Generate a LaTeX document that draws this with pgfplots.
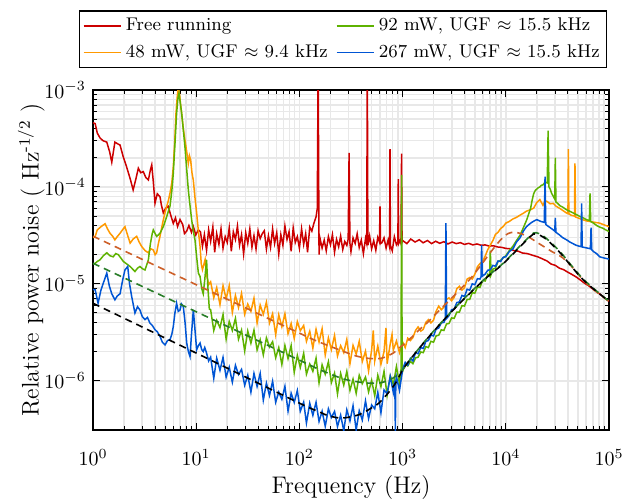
\documentclass[border=0pt]{standalone}
\usepackage{pgfplots}
\pgfplotsset{compat=1.18}

\definecolor{cRed}{RGB}{204,0,0}
\definecolor{cOrange}{RGB}{255,153,0}
\definecolor{cGreen}{RGB}{94,178,0}
\definecolor{cBlue}{RGB}{0,85,212}
\definecolor{cBrown}{RGB}{205,95,40}
\definecolor{cDkGreen}{RGB}{40,125,40}

\begin{document}
\begin{tikzpicture}
\path[use as bounding box] (-46.5pt,-35pt) rectangle (271.5pt,215pt);
\begin{axis}[
  at={(0,0)}, anchor=south west,
  scale only axis,
  width=258pt, height=170pt,
  xmode=log, ymode=log,
  xmin=1, xmax=1e5,
  ymin=3.1e-7, ymax=1e-3,
  xtick={1,10,100,1000,10000,100000},
  ytick={1e-6,1e-5,1e-4,1e-3},
  grid=both,
  major grid style={line width=0.8pt, black!9},
  minor grid style={line width=0.8pt, black!9},
  axis line style={line width=0.7pt},
  major tick length=3.5pt, minor tick length=2pt,
  tick style={black, line width=0.5pt},
  xticklabel style={yshift=-6pt},
  xlabel={Frequency (Hz)},
  xlabel style={yshift=2pt},
  ylabel={Relative power noise ( Hz\textsuperscript{-1/2} )},
  ylabel shift=-7pt,
  label style={font=\large},
  legend columns=2,
  legend style={at={(0.485,1.065)}, anchor=south, draw=black, line width=0.6pt,
    fill=white, font=\fontsize{9.2}{11.5}\selectfont, inner sep=1.5pt, row sep=1.2pt,
    /tikz/every even column/.append style={column sep=2pt}},
  legend cell align=left,
  legend image code/.code={\draw[#1] (0cm,0cm) -- (0.66cm,0cm);},
  every axis plot/.append style={line width=0.75pt},
]

% free running
\addplot[cRed, forget plot] coordinates {
(1,4.6e-4)(1.05,4.5e-4)(1.1,3.6e-4)(1.17,3.2e-4)(1.25,3.0e-4)(1.36,2.9e-4)(1.45,2.3e-4)(1.52,1.8e-4)(1.63,2.9e-4)(1.72,2.8e-4)(1.83,2.7e-4)(1.95,2.1e-4)(2.12,1.6e-4)(2.3,1.2e-4)(2.45,9.3e-5)(2.6,1.2e-4)(2.75,1.56e-4)(2.9,1.4e-4)(3.07,1.44e-4)(3.25,1.25e-4)(3.44,1.18e-4)(3.6,1.5e-4)(3.71,1.69e-4)(3.85,1.1e-4)(3.99,6.8e-5)(4.2,8.5e-5)(4.46,7.9e-5)(4.6,6.5e-5)(4.8,5.4e-5)(5.05,6.0e-5)(5.36,6.3e-5)(5.7,5.0e-5)(6.0,4.2e-5)(6.3,4.8e-5)(6.6,3.9e-5)(6.97,4.6e-5)(7.4,4.1e-5)(7.7,3.3e-5)(8.09,3.5e-5)(8.5,4.0e-5)(9.0,3.4e-5)(9.38,3.9e-5)(9.9,3.2e-5)(10.5,3.6e-5)
(11,3.44e-5)(11.5,2.44e-5)(12,3.22e-5)(12.6,2.22e-5)(13.2,3.61e-5)(13.8,2.74e-5)(14.5,3.86e-5)(15.1,2.12e-5)(15.8,3.29e-5)(16.6,2.55e-5)(17.4,3.69e-5)(18.2,2.33e-5)(19.1,3.07e-5)(20,2.67e-5)(20.9,3.78e-5)(21.9,2.17e-5)(22.9,3.44e-5)(24,2.87e-5)(25.1,3.95e-5)(26.3,2.50e-5)(27.5,3.22e-5)(28.8,2.03e-5)(30.2,3.37e-5)(31.6,2.61e-5)(33.1,3.69e-5)(34.7,2.38e-5)(36.3,3.14e-5)(38,2.28e-5)(39.8,3.53e-5)(41.7,2.93e-5)
(43.7,3.3e-5)(45.7,3.53e-5)(47.9,2.28e-5)(50.1,3.14e-5)(52.5,2.38e-5)(55,3.69e-5)(57.5,2.61e-5)(60.3,3.37e-5)(63.1,2.03e-5)(66.1,3.22e-5)(69.2,2.50e-5)(72.4,3.95e-5)(75.9,2.87e-5)(79.4,3.44e-5)(83.2,2.17e-5)(87.1,3.78e-5)(91.2,2.67e-5)(95.5,3.07e-5)(100,2.33e-5)(105,3.69e-5)(110,2.55e-5)(115,3.29e-5)(120,2.12e-5)(126,3.86e-5)(132,3.5e-5)(138,4.2e-5)(145,4.9e-5)(149,6.0e-5)(152,2e-3)(155,2.0e-5)
(158,2.98e-5)(166,2.34e-5)(174,2.83e-5)(182,2.19e-5)(191,3.07e-5)(200,2.53e-5)(209,3.22e-5)(219,2.12e-5)(229,2.88e-5)(240,2.41e-5)(251,3.12e-5)(263,2.26e-5)(275,2.74e-5)(288,2.49e-5)(297,2.9e-5)(303,2.24e-4)(309,2.6e-5)(316,2.15e-5)(331,2.98e-5)(347,2.61e-5)(363,3.28e-5)(380,2.37e-5)(398,2.83e-5)(417,2.05e-5)(437,2.93e-5)(449,2.6e-5)(455,2e-3)(461,2.5e-5)(479,3.12e-5)(501,2.30e-5)(525,2.79e-5)(550,2.22e-5)(575,3.02e-5)(597,2.7e-5)(604,6.3e-5)(611,2.6e-5)(631,2.66e-5)(661,2.98e-5)(692,2.34e-5)(724,2.83e-5)(748,2.4e-5)(755,2.45e-4)(762,2.5e-5)(794,2.19e-5)(832,3.07e-5)(871,2.53e-5)(900,2.7e-5)(908,1.2e-4)(916,2.6e-5)(945,2.8e-5)(965,2.6e-5)(977,2.2e-4)(988,2.7e-5)
(1000,2.8e-5)(1100,2.6e-5)(1200,2.9e-5)(1320,2.7e-5)(1450,2.85e-5)(1580,2.65e-5)(1740,2.8e-5)(1910,2.6e-5)(2090,2.75e-5)(2290,2.62e-5)(2510,2.72e-5)(2750,2.58e-5)(3020,2.7e-5)(3310,2.6e-5)(3630,2.66e-5)(3980,2.55e-5)(4370,2.62e-5)(4790,2.52e-5)(5250,2.58e-5)(5750,2.5e-5)(6310,2.52e-5)(6920,2.45e-5)(7590,2.47e-5)(8320,2.4e-5)(9120,2.38e-5)(10000,2.32e-5)(11000,2.3e-5)(12000,2.2e-5)(13200,2.17e-5)(14500,2.08e-5)(16200,2.05e-5)(18200,1.97e-5)(20400,1.9e-5)(22900,1.8e-5)(25100,1.72e-5)(27500,1.6e-5)(30200,1.55e-5)(33100,1.45e-5)(36300,1.4e-5)(39800,1.32e-5)(43700,1.25e-5)(47900,1.18e-5)(52500,1.1e-5)(57500,1.02e-5)(63100,9.6e-6)(69200,8.9e-6)(75900,8.3e-6)(83200,7.7e-6)(91200,7.1e-6)(100000,6.6e-6)
};

% 48 mW
\addplot[cOrange, forget plot] coordinates {
(1,3.0e-5)(1.05,3.08e-5)(1.1,3.6e-5)(1.2,3.9e-5)(1.31,4.17e-5)(1.38,3.7e-5)(1.46,3.33e-5)(1.55,3.1e-5)(1.63,2.84e-5)(1.73,3.1e-5)(1.83,3.33e-5)(1.93,3.6e-5)(2.04,3.89e-5)(2.16,3.2e-5)(2.29,2.63e-5)(2.45,2.9e-5)(2.65,3.09e-5)(2.8,2.7e-5)(2.96,2.43e-5)(3.2,2.2e-5)(3.44,2.09e-5)(3.62,2.3e-5)(3.84,2.24e-5)(4.0,2.0e-5)(4.14,2.09e-5)(4.3,2.6e-5)(4.46,3.09e-5)(4.63,3.8e-5)(4.8,4.57e-5)(5.0,5.5e-5)(5.18,6.3e-5)(5.37,7.2e-5)(5.57,8.6e-5)(5.8,1.1e-4)(6.0,1.62e-4)(6.2,3.0e-4)(6.37,5.75e-4)(6.55,8.5e-4)(6.71,1.1e-3)(6.9,9.0e-4)(7.05,7.2e-4)(7.23,5.75e-4)(7.5,4.0e-4)(7.78,3.05e-4)(8.1,2.3e-4)(8.39,1.75e-4)(8.6,2.1e-4)(8.83,1.9e-4)(9.1,1.4e-4)(9.38,1.17e-4)(9.7,8.0e-5)(10.1,5.4e-5)(10.5,3.5e-5)(10.9,2.43e-5)(11.2,1.6e-5)(11.5,1.4e-5)(11.9,1.6e-5)(12.2,1.78e-5)(12.6,1.25e-5)(13.2,9.8e-6)
(13.8,1.05e-5)(14.8,7.18e-6)(15.8,9.14e-6)(17.0,6.11e-6)(18.2,9.57e-6)(19.5,7.02e-6)(20.9,9.57e-6)(22.4,5.08e-6)(24.0,7.60e-6)(25.7,5.70e-6)(27.5,7.96e-6)(29.5,4.85e-6)(31.6,6.18e-6)(33.9,5.20e-6)(36.3,7.10e-6)(38.9,3.94e-6)(41.7,6.04e-6)(44.7,4.85e-6)(47.9,6.47e-6)(51.3,3.94e-6)(55.0,4.91e-6)(58.9,2.99e-6)(63.1,4.80e-6)(67.6,3.60e-6)(72.4,4.91e-6)(77.6,3.06e-6)(83.2,3.90e-6)(89.1,2.73e-6)(95.5,4.08e-6)(102,3.28e-6)
(110,3.72e-6)(117,2.55e-6)(126,3.24e-6)(135,2.17e-6)(145,3.40e-6)(155,2.51e-6)(166,3.44e-6)(178,1.84e-6)(191,2.77e-6)(204,2.09e-6)(219,2.93e-6)(234,1.80e-6)(251,2.30e-6)(269,1.95e-6)(288,2.67e-6)(309,1.50e-6)(331,2.32e-6)(355,1.88e-6)(380,2.55e-6)(407,1.58e-6)(437,2.02e-6)(468,1.26e-6)(501,2.07e-6)(520,3.3e-6)(537,1.60e-6)(575,2.28e-6)(617,1.48e-6)(661,2.00e-6)(690,3.5e-6)(708,1.50e-6)(759,2.40e-6)(790,3.0e-6)(813,2.07e-6)(871,2.57e-6)(933,1.95e-6)
(1000,2.51e-6)(1060,2.2e-6)(1122,2.75e-6)(1190,2.6e-6)(1259,2.79e-6)(1334,3.3e-6)(1413,3.59e-6)(1500,3.25e-6)(1585,3.39e-6)(1680,4.0e-6)(1778,4.27e-6)(1880,3.95e-6)(1995,4.22e-6)(2110,5.2e-6)(2239,5.89e-6)(2370,5.4e-6)(2512,5.75e-6)(2660,6.9e-6)(2818,7.16e-6)(2980,6.7e-6)(3162,7.24e-6)(3350,8.9e-6)(3548,9.44e-6)(3760,8.6e-6)(3981,9.12e-6)(4220,1.12e-5)(4467,1.16e-5)(4730,1.12e-5)(5012,1.26e-5)(5310,1.5e-5)(5623,1.62e-5)(5960,1.7e-5)(6310,1.93e-5)(6680,2.25e-5)(7079,2.51e-5)(7500,2.8e-5)(7943,3.24e-5)(8410,3.4e-5)(8913,3.72e-5)(9440,3.9e-5)(10000,4.23e-5)(10800,4.4e-5)(11750,4.68e-5)(12700,4.85e-5)(13800,5.13e-5)(14800,5.35e-5)(15850,5.62e-5)(17200,5.8e-5)(18620,6.03e-5)(19950,6.9e-5)(21380,7.4e-5)(22910,6.46e-5)(24000,7.2e-5)(25120,7.08e-5)(26900,6.7e-5)(28840,6.76e-5)(30800,6.3e-5)(33110,6.03e-5)(35800,5.7e-5)(38900,5.37e-5)(40000,5.3e-5)(40400,2.45e-4)(40800,5.3e-5)(43000,5.1e-5)(46300,5.0e-5)(46800,1.75e-4)(47300,4.9e-5)(51000,4.75e-5)(56230,4.57e-5)(61000,4.45e-5)(67600,4.37e-5)(74000,4.3e-5)(81280,4.23e-5)(90000,4.05e-5)(100000,3.89e-5)
};

% 92 mW
\addplot[cGreen, forget plot] coordinates {
(1,1.6e-5)(1.05,1.63e-5)(1.1,1.7e-5)(1.17,1.77e-5)(1.26,1.95e-5)(1.36,2.09e-5)(1.46,1.95e-5)(1.57,1.9e-5)(1.66,2.05e-5)(1.76,2.0e-5)(1.86,1.85e-5)(1.97,1.7e-5)(2.13,1.6e-5)(2.29,1.51e-5)(2.42,1.42e-5)(2.55,1.34e-5)(2.7,1.45e-5)(2.85,1.51e-5)(3.02,1.43e-5)(3.19,1.39e-5)(3.3,1.55e-5)(3.44,1.77e-5)(3.6,2.6e-5)(3.75,3.3e-5)(3.84,3.6e-5)(4.0,3.3e-5)(4.14,3.09e-5)(4.3,3.2e-5)(4.46,3.33e-5)(4.63,3.6e-5)(4.8,3.89e-5)(5.0,4.4e-5)(5.18,4.94e-5)(5.37,5.6e-5)(5.57,6.31e-5)(5.8,9.0e-5)(6.0,1.38e-4)(6.25,3.0e-4)(6.46,5.75e-4)(6.65,8.2e-4)(6.81,9.25e-4)(7.0,7.5e-4)(7.23,5.75e-4)(7.5,3.9e-4)(7.78,2.6e-4)(8.1,1.5e-4)(8.39,9.3e-5)(8.7,6.5e-5)(9.04,4.57e-5)(9.38,3.5e-5)(9.73,2.84e-5)(10.1,1.9e-5)(10.5,1.29e-5)(10.9,1.19e-5)(11.3,9.0e-6)(11.7,7.9e-6)(12.1,1.1e-5)(12.6,1.77e-5)(13.0,9.0e-6)(13.4,5.5e-6)
(13.8,5.41e-6)(14.8,3.30e-6)(15.8,4.20e-6)(17.0,3.53e-6)(18.2,4.82e-6)(19.5,2.68e-6)(20.9,4.10e-6)(22.4,3.30e-6)(24.0,4.40e-6)(25.7,2.68e-6)(27.5,3.33e-6)(29.5,2.03e-6)(31.6,3.26e-6)(33.9,2.44e-6)(36.3,3.33e-6)(38.9,2.08e-6)(41.7,2.65e-6)(44.7,1.85e-6)(47.9,2.77e-6)(51.3,2.23e-6)(55.0,2.53e-6)(58.9,1.73e-6)(63.1,2.20e-6)(67.6,1.47e-6)(72.4,2.31e-6)(77.6,1.69e-6)(83.2,2.31e-6)(89.1,1.22e-6)(95.5,1.83e-6)(102,1.37e-6)
(110,1.92e-6)(117,1.17e-6)(126,1.49e-6)(135,1.25e-6)(145,1.71e-6)(155,9.5e-7)(166,1.46e-6)(178,1.17e-6)(191,1.57e-6)(204,9.55e-7)(219,1.20e-6)(234,7.33e-7)(251,1.19e-6)(269,9.02e-7)(288,1.25e-6)(309,7.94e-7)(331,1.04e-6)(355,7.41e-7)(380,1.14e-6)(407,9.33e-7)(437,1.09e-6)(468,7.67e-7)(501,1.01e-6)(537,7.0e-7)(575,1.14e-6)(617,8.71e-7)(661,1.25e-6)(708,7.08e-7)(759,1.13e-6)(813,9.12e-7)(871,1.40e-6)(933,9.33e-7)(965,1.3e-6)(977,1.33e-4)(990,1.4e-6)
(1000,1.25e-6)(1060,1.5e-6)(1122,1.42e-6)(1190,1.58e-6)(1259,1.5e-6)(1334,1.72e-6)(1413,1.75e-6)(1500,1.98e-6)(1585,1.95e-6)(1680,2.25e-6)(1778,2.2e-6)(1880,2.55e-6)(1995,2.5e-6)(2110,2.9e-6)(2239,2.95e-6)(2370,3.35e-6)(2512,3.3e-6)(2660,3.85e-6)(2818,3.9e-6)(2980,4.45e-6)(3162,4.4e-6)(3350,5.1e-6)(3548,5.1e-6)(3760,5.95e-6)(3981,5.9e-6)(4220,6.9e-6)(4467,6.9e-6)(4730,8.1e-6)(5012,8.0e-6)(5310,9.3e-6)(5623,9.2e-6)(5960,1.08e-5)(6310,1.07e-5)(6680,1.25e-5)(6950,1.2e-5)(7079,2.2e-5)(7200,1.25e-5)(7500,1.42e-5)(7943,1.45e-5)(8410,1.7e-5)(8913,1.75e-5)(9440,1.85e-5)(10000,1.95e-5)(10800,2.2e-5)(11750,2.45e-5)(12700,2.8e-5)(13800,3.2e-5)(14800,3.8e-5)(15850,4.5e-5)(16600,5.2e-5)(17380,6.0e-5)(18000,7.3e-5)(18620,8.5e-5)(19300,9.2e-5)(19950,9.5e-5)(20600,9.8e-5)(21380,1.0e-4)(22100,1.04e-4)(22910,1.05e-4)(24000,1.12e-4)(25200,1.1e-4)(25700,3.8e-4)(26200,1.0e-4)(26900,9.5e-5)(27800,8.6e-5)(28840,8.0e-5)(29800,7.5e-5)(30200,2.0e-4)(30600,7.0e-5)(31600,6.8e-5)(33500,6.4e-5)(35500,6.2e-5)(38900,5.8e-5)(41700,5.6e-5)(44700,5.4e-5)(48000,5.2e-5)(52500,4.94e-5)(56200,4.8e-5)(60300,4.6e-5)(64500,4.5e-5)(65500,8.6e-5)(66500,4.4e-5)(70800,4.23e-5)(75900,4.0e-5)(81300,3.85e-5)(87000,3.75e-5)(93000,3.6e-5)(100000,3.47e-5)
};

% 267 mW
\addplot[cBlue, forget plot] coordinates {
(1,8.7e-6)(1.05,8.7e-6)(1.12,6.3e-6)(1.19,8.5e-6)(1.26,1.02e-5)(1.36,1.29e-5)(1.44,9.5e-6)(1.52,7.9e-6)(1.63,6.84e-6)(1.72,7.5e-6)(1.83,7.9e-6)(1.94,1.1e-5)(2.04,1.39e-5)(2.17,1.51e-5)(2.26,1.0e-5)(2.37,7.4e-6)(2.55,5.0e-6)(2.7,5.8e-6)(2.85,5.37e-6)(3.0,4.6e-6)(3.19,4.27e-6)(3.37,4.5e-6)(3.56,3.94e-6)(3.77,3.7e-6)(3.99,3.36e-6)(4.2,3.2e-6)(4.46,2.86e-6)(4.7,2.5e-6)(4.99,2.34e-6)(5.27,2.6e-6)(5.57,2.65e-6)(5.8,3.0e-6)(6.0,3.63e-6)(6.22,5.0e-6)(6.46,6.3e-6)(6.7,5.2e-6)(6.97,5.37e-6)(7.2,6.2e-6)(7.5,5.83e-6)(7.8,4.0e-6)(8.09,2.45e-6)(8.4,2.0e-6)(8.71,1.78e-6)(9.0,3.0e-6)(9.38,5.37e-6)(9.7,3.5e-6)(10.1,2.09e-6)(10.5,2.3e-6)(10.9,2.45e-6)(11.3,2.1e-6)(11.7,2.0e-6)(12.1,2.2e-6)(12.6,1.93e-6)(13.2,1.6e-6)
(13.8,1.75e-6)(14.8,1.06e-6)(15.8,1.71e-6)(17.0,1.28e-6)(18.2,1.74e-6)(19.5,1.09e-6)(20.9,1.38e-6)(22.4,9.66e-7)(24.0,1.44e-6)(25.7,1.16e-6)(27.5,1.31e-6)(29.5,8.97e-7)(31.6,1.14e-6)(33.9,7.62e-7)(36.3,1.19e-6)(38.9,8.73e-7)(41.7,1.19e-6)(44.7,6.31e-7)(47.9,9.44e-7)(51.3,7.06e-7)(55.0,9.86e-7)(58.9,6.0e-7)(63.1,7.64e-7)(67.6,6.43e-7)(72.4,8.75e-7)(77.6,4.86e-7)(83.2,7.43e-7)(89.1,5.97e-7)(95.5,7.94e-7)(102,4.84e-7)
(110,6.01e-7)(117,3.66e-7)(126,5.86e-7)(135,4.40e-7)(145,6.0e-7)(155,3.80e-7)(166,4.84e-7)(178,3.39e-7)(191,5.13e-7)(204,4.17e-7)(219,4.82e-7)(234,3.37e-7)(251,4.42e-7)(269,3.05e-7)(288,5.01e-7)(309,3.85e-7)(331,5.53e-7)(355,3.10e-7)(380,4.90e-7)(407,3.94e-7)(437,6.19e-7)(468,4.07e-7)(501,5.62e-7)(537,5.13e-7)(575,7.59e-7)(617,4.68e-7)(661,8.04e-7)(708,7.33e-7)(759,1.10e-6)(813,7.59e-7)(840,1.0e-6)(851,3.0e-7)(860,1.0e-6)(871,1.10e-6)(933,7.94e-7)
(1000,1.3e-6)(1060,1.55e-6)(1122,1.45e-6)(1190,1.7e-6)(1259,1.6e-6)(1334,1.95e-6)(1413,1.9e-6)(1500,2.2e-6)(1585,2.15e-6)(1680,2.55e-6)(1778,2.6e-6)(1880,2.95e-6)(1995,2.9e-6)(2110,3.4e-6)(2239,3.5e-6)(2370,3.95e-6)(2512,4.0e-6)(2590,4.3e-6)(2630,4.23e-5)(2670,4.4e-6)(2818,4.7e-6)(2980,5.4e-6)(3162,5.5e-6)(3350,6.4e-6)(3548,6.5e-6)(3760,7.6e-6)(3981,7.4e-6)(4220,8.8e-6)(4467,8.6e-6)(4730,1.0e-5)(5012,9.8e-6)(5310,1.13e-5)(5623,1.12e-5)(5750,1.18e-5)(5830,2.5e-5)(5920,1.2e-5)(6310,1.26e-5)(6680,1.38e-5)(7079,1.4e-5)(7500,1.55e-5)(7943,1.52e-5)(8410,1.72e-5)(8913,1.7e-5)(9440,1.88e-5)(10000,1.9e-5)(10800,2.15e-5)(11750,2.3e-5)(12700,2.7e-5)(13800,3.0e-5)(14800,3.5e-5)(15850,3.89e-5)(16800,4.1e-5)(17780,4.3e-5)(18800,4.45e-5)(19950,4.6e-5)(20900,4.5e-5)(21900,4.4e-5)(22800,4.35e-5)(23600,4.3e-5)(24000,1.28e-4)(24400,4.1e-5)(25100,4.0e-5)(26900,3.8e-5)(28840,3.6e-5)(29800,3.5e-5)(30200,4.8e-5)(30600,3.4e-5)(33100,3.2e-5)(35500,3.0e-5)(38900,2.84e-5)(41700,2.7e-5)(44700,2.6e-5)(48000,2.5e-5)(52500,2.43e-5)(53600,2.42e-5)(54300,6.76e-5)(55000,2.4e-5)(60300,2.35e-5)(66000,2.3e-5)(67000,3.8e-5)(68000,2.25e-5)(70800,2.15e-5)(75900,2.05e-5)(81300,1.9e-5)(89100,1.85e-5)(100000,1.8e-5)
};

% models (dashed)
\addplot[cBrown, line width=0.8pt, dash pattern=on 3.5pt off 2.5pt, smooth, forget plot] coordinates {
(1,3.1e-5)(10,9.8e-6)(100,3.1e-6)(126,2.76e-6)(155,2.51e-6)(204,2.24e-6)(269,2.0e-6)(355,1.80e-6)(468,1.70e-6)(617,1.70e-6)(708,1.80e-6)(813,1.93e-6)(933,2.19e-6)(1122,2.57e-6)(1413,3.27e-6)(1778,4.07e-6)(2239,5.25e-6)(2818,6.68e-6)(3548,8.61e-6)(4467,1.11e-5)(5623,1.51e-5)(7079,2.1e-5)(8913,2.85e-5)(10500,3.3e-5)(12000,3.4e-5)(14000,3.3e-5)(17000,3.0e-5)(21000,2.6e-5)(28000,2.15e-5)(35500,1.86e-5)(45000,1.45e-5)(56000,1.1e-5)(70000,8.8e-6)(100000,6.6e-6)
};
\addplot[cDkGreen, line width=0.8pt, dash pattern=on 3.5pt off 2.5pt, smooth, forget plot] coordinates {
(1,1.63e-5)(10,5.15e-6)(100,1.63e-6)(150,1.33e-6)(200,1.17e-6)(270,1.04e-6)(355,9.8e-7)(468,9.44e-7)(617,9.55e-7)(708,1.0e-6)(813,1.07e-6)(933,1.2e-6)(1050,1.38e-6)(1175,1.64e-6)(1700,2.67e-6)(2690,4.62e-6)(4170,7.45e-6)(6460,1.16e-5)(9550,1.65e-5)(13800,2.47e-5)(16600,3.0e-5)(18620,3.35e-5)(21000,3.3e-5)(25100,2.9e-5)(33900,2.12e-5)(44700,1.48e-5)(56200,1.12e-5)(74100,8.6e-6)(100000,6.6e-6)
};
\addplot[black, line width=0.8pt, dash pattern=on 3.5pt off 2.5pt, smooth, forget plot] coordinates {
(1,6.3e-6)(10,1.93e-6)(100,5.87e-7)(155,4.79e-7)(178,4.47e-7)(219,4.2e-7)(251,4.12e-7)(288,4.17e-7)(331,4.3e-7)(380,4.47e-7)(437,4.81e-7)(501,5.25e-7)(575,5.75e-7)(661,6.68e-7)(759,7.94e-7)(871,9.77e-7)(1000,1.29e-6)(1175,1.64e-6)(1700,2.65e-6)(2690,4.6e-6)(4170,7.4e-6)(6460,1.15e-5)(9550,1.63e-5)(13800,2.43e-5)(16600,2.95e-5)(18620,3.27e-5)(21000,3.2e-5)(25100,2.84e-5)(33900,2.07e-5)(44700,1.45e-5)(56200,1.1e-5)(74100,8.5e-6)(100000,6.6e-6)
};

\addlegendimage{cRed, line width=0.8pt}
\addlegendentry{Free running}
\addlegendimage{cGreen, line width=0.8pt}
\addlegendentry{92 mW, UGF $\approx$ 15.5 kHz}
\addlegendimage{cOrange, line width=0.8pt}
\addlegendentry{48 mW, UGF $\approx$ 9.4 kHz}
\addlegendimage{cBlue, line width=0.8pt}
\addlegendentry{267 mW, UGF $\approx$ 15.5 kHz}
\end{axis}
\end{tikzpicture}
\end{document}
